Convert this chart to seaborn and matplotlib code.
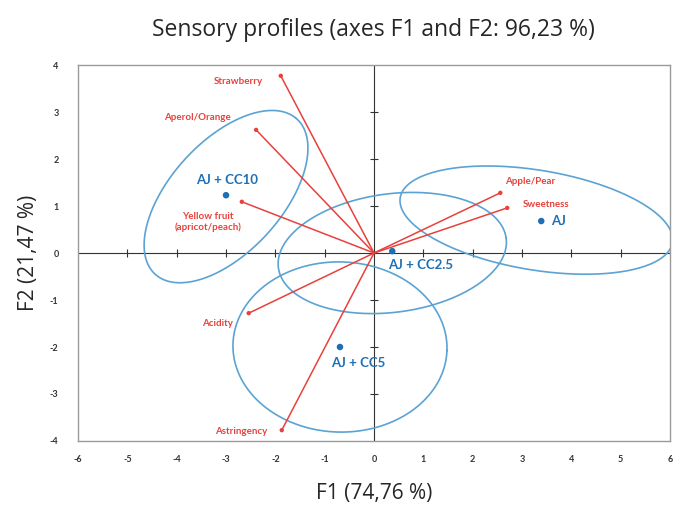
import numpy as np
import pandas as pd
import matplotlib
matplotlib.use("Agg")
import matplotlib.pyplot as plt
import seaborn as sns

# ---- data ----
variables = ["Strawberry", "Aperol/Orange", "Yellow fruit\n(apricot/peach)", "Apple/Pear",
             "Sweetness", "Acidity", "Astringency"]
var_f1 = [-1.89, -2.39, -2.68, 2.56, 2.70, -2.54, -1.87]
var_f2 = [3.77, 2.62, 1.09, 1.28, 0.96, -1.28, -3.77]

observations = ["AJ + CC10", "AJ", "AJ + CC2.5", "AJ + CC5"]
obs_f1 = [-3.00, 3.39, 0.37, -0.69]
obs_f2 = [1.23, 0.68, 0.04, -2.00]

# confidence ellipses: centre, semi-axes (data units), rotation (deg)
ell_cx = [-3.00, 3.29, 0.37, -0.69]
ell_cy = [1.20, 0.70, 0.00, -2.00]
ell_a = [2.19, 2.80, 2.33, 2.17]
ell_b = [1.15, 1.06, 1.26, 1.81]
ell_ang = [50, -10, 8, -2]

x_ticks = list(range(-6, 7))
y_ticks = list(range(-4, 5))

title = "Sensory profiles (axes F1 and F2: 96,23 %)"
xlabel = "F1 (74,76 %)"
ylabel = "F2 (21,47 %)"

# ---- styling ----
sns.set_style("white")
plt.rcParams["font.family"] = ["Open Sans", "DejaVu Sans"]
SMALL = ["Lato", "DejaVu Sans"]

RED = "#e8413c"
BLUE = "#1f6fb4"
ELL = "#5ba3d3"

fig = plt.figure(figsize=(6.75, 5.08), dpi=100)
ax = fig.add_axes([0.1156, 0.1319, 0.8770, 0.7401])

ax.set_xlim(-6, 6)
ax.set_ylim(-4, 4)

# centre axes
ax.axhline(0, color="#333333", lw=0.8, zorder=1)
ax.axvline(0, color="#333333", lw=0.8, zorder=1)
tx = [t for t in x_ticks if t not in (-6, 0, 6)]
ty = [t for t in y_ticks if t not in (-4, 0, 4)]
ax.plot(tx, [0] * len(tx), ls="none", marker="|", ms=6, mew=0.8, color="#333333", zorder=1)
ax.plot([0] * len(ty), ty, ls="none", marker="_", ms=6, mew=0.8, color="#333333", zorder=1)

# ellipses
t = np.linspace(0, 2 * np.pi, 300)
for cx, cy, a, b, ang in zip(ell_cx, ell_cy, ell_a, ell_b, ell_ang):
    th = np.deg2rad(ang)
    ex = cx + a * np.cos(t) * np.cos(th) - b * np.sin(t) * np.sin(th)
    ey = cy + a * np.cos(t) * np.sin(th) + b * np.sin(t) * np.cos(th)
    ax.plot(ex, ey, color=ELL, lw=1.2, zorder=2, clip_on=True)

# variable vectors
for x, y in zip(var_f1, var_f2):
    ax.plot([0, x], [0, y], color=RED, lw=1.1, zorder=3)
vdf = pd.DataFrame({"F1": var_f1, "F2": var_f2, "name": variables})
sns.scatterplot(data=vdf, x="F1", y="F2", color=RED, s=10, edgecolor="none", ax=ax, zorder=4)

var_off = [(-42, -6), (-59, 12), (-34, -20), (30, 11), (39, 3), (-31, -10), (-41, -1)]
for name, x, y, (dx, dy) in zip(variables, var_f1, var_f2, var_off):
    ax.annotate(name, (x, y), xytext=(dx, dy), textcoords="offset pixels",
                ha="center", va="center", color=RED, fontsize=7, family=SMALL,
                fontweight="bold", linespacing=1.2, zorder=5)

# observations
odf = pd.DataFrame({"F1": obs_f1, "F2": obs_f2, "name": observations})
sns.scatterplot(data=odf, x="F1", y="F2", color=BLUE, s=22, edgecolor="none", ax=ax, zorder=5)
obs_off = [(1, 15, "center"), (10, 0, "left"), (28, -14, "center"), (18, -16, "center")]
for name, x, y, (dx, dy, ha) in zip(observations, obs_f1, obs_f2, obs_off):
    ax.annotate(name, (x, y), xytext=(dx, dy), textcoords="offset pixels",
                ha=ha, va="center", color=BLUE, fontsize=9.5, fontweight="bold",
                family=SMALL, zorder=6)

# frame and ticks
for s in ax.spines.values():
    s.set_color("#9a9a9a")
    s.set_linewidth(1.0)
ax.set_xticks(x_ticks)
ax.set_yticks(y_ticks)
ax.set_xticklabels([str(v) for v in x_ticks], family=SMALL, fontweight="bold")
ax.set_yticklabels([str(v) for v in y_ticks], family=SMALL, fontweight="bold")
ax.tick_params(axis="both", length=0, labelsize=6.5, labelcolor="#333333")
ax.tick_params(axis="x", pad=10)
ax.tick_params(axis="y", pad=14)

ax.set_xlabel(xlabel, fontsize=15, labelpad=14)
ax.set_ylabel(ylabel, fontsize=15, labelpad=8)
fig.text(0.553, 0.94, title, ha="center", va="center", fontsize=16.5)

fig.savefig("out.png", dpi=100)
